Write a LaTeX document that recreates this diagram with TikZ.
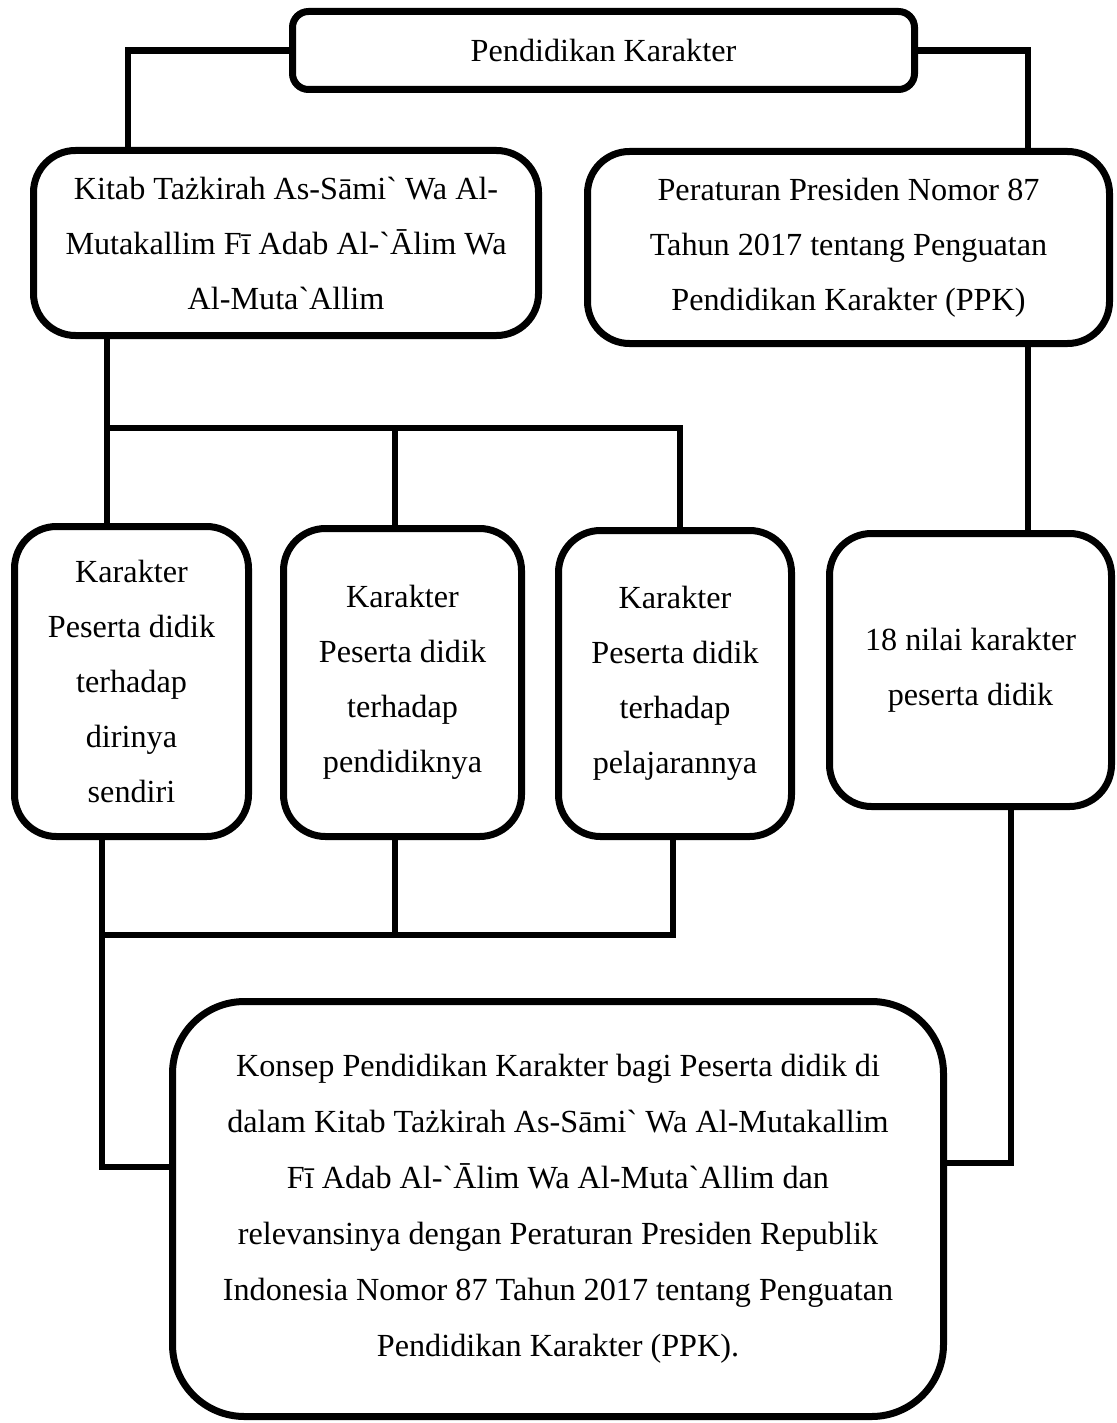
\documentclass[tikz,border=0pt]{standalone}
\usepackage{fontspec}
\newfontfamily\tnr{Liberation Serif}

\begin{document}
\begin{tikzpicture}[x=0.5pt,y=-0.5pt,
    kotak/.style={draw,line width=3.5pt,rounded corners=21pt,inner sep=0pt,
      align=center,font=\tnr\fontsize{16.1pt}{27.5pt}\selectfont},
    garis/.style={line width=3.2pt}]
      \useasboundingbox (0,0) rectangle (1116,1423);

      \node[kotak,rounded corners=8pt,minimum width=311pt,minimum height=39pt](pk) at (603.5,50.5){Pendidikan Karakter};
      \node[kotak,minimum width=252.5pt,minimum height=92.5pt](kitab) at (286,243)
        {Kitab Tażkirah As-Sāmi` Wa Al-\\Mutakallim Fī Adab Al-`Ālim Wa\\Al-Muta`Allim};
      \node[kotak,minimum width=261pt,minimum height=96pt](perpres) at (848.5,247.5)
        {Peraturan Presiden Nomor 87\\Tahun 2017 tentang Penguatan\\Pendidikan Karakter (PPK)};
      \node[kotak,minimum width=117pt,minimum height=155pt](diri) at (131.5,681.5)
        {Karakter\\Peserta didik\\terhadap\\dirinya\\sendiri};
      \node[kotak,minimum width=119pt,minimum height=154pt](guru) at (402.5,682.5)
        {Karakter\\Peserta didik\\terhadap\\pendidiknya};
      \node[kotak,minimum width=116.5pt,minimum height=153pt](pelajaran) at (675,683.5)
        {Karakter\\Peserta didik\\terhadap\\pelajarannya};
      \node[kotak,minimum width=141pt,minimum height=136.5pt](nilai) at (970.5,670)
        {18 nilai karakter\\peserta didik};
      \node[kotak,rounded corners=36pt,minimum width=385.5pt,minimum height=207.5pt,
        font=\tnr\fontsize{16.1pt}{28pt}\selectfont](konsep) at (558,1209)
        {Konsep Pendidikan Karakter bagi Peserta didik di\\
         dalam Kitab Tażkirah As-Sāmi` Wa Al-Mutakallim\\
         Fī Adab Al-`Ālim Wa Al-Muta`Allim dan\\
         relevansinya dengan Peraturan Presiden Republik\\
         Indonesia Nomor 87 Tahun 2017 tentang Penguatan\\
         Pendidikan Karakter (PPK).};

      \coordinate (ke) at (128,50);
      \coordinate (ka) at (107,428);
      \coordinate (kb) at (395,428);
      \coordinate (kc) at (680,428);
      \coordinate (kd) at (1028,428);
      \coordinate (ba) at (102,935);
      \coordinate (bb) at (395,935);
      \coordinate (bc) at (673,935);
      \coordinate (bl) at (102,1167);
      \coordinate (br) at (1011,1163);

      \draw[garis]
      (pk.west) -| (kitab.north -| ke)
      (pk.east) -| (perpres.north -| kd)
      (kitab.south -| ka) -- (diri.north -| ka)
      (ka) -- (kc) -- (pelajaran.north -| kc)
      (kb) -- (guru.north -| kb)
      (perpres.south -| kd) -- (nilai.north -| kd)
      (diri.south -| ba) -- (bl) -- (konsep.west |- bl)
      (ba) -- (bc) -- (pelajaran.south -| bc)
      (bb) -- (guru.south -| bb)
      (nilai.south -| br) -- (br) -- (konsep.east |- br);
    \end{tikzpicture}
\end{document}
